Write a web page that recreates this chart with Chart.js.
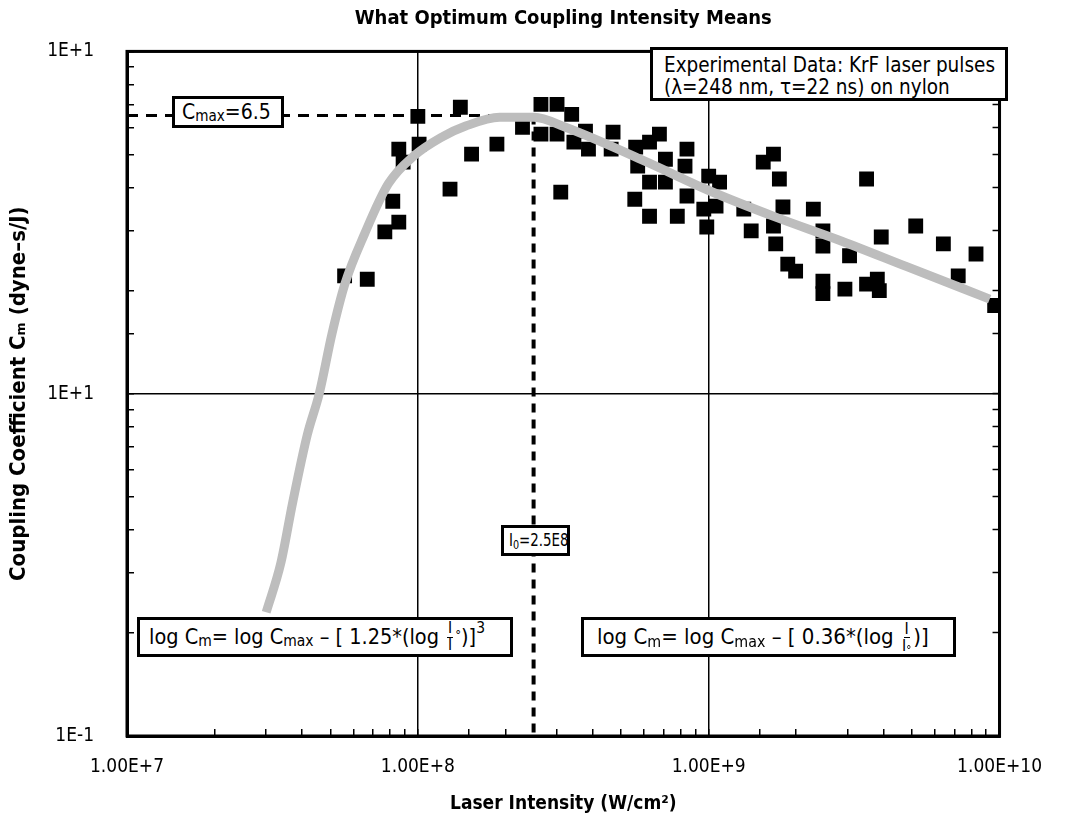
<!DOCTYPE html>
<html>
<head>
<meta charset="utf-8">
<script src="https://cdn.jsdelivr.net/npm/chart.js"></script>
<style>
  html, body { margin: 0; padding: 0; background: #fff; }
  #wrap { position: relative; width: 1069px; height: 821px; }
  #chart { position: absolute; left: 0; top: 0; }
  .box {
    position: absolute; box-sizing: border-box; background: #fff; color: #000;
    border: 3px solid #000; white-space: nowrap; line-height: 1;
    display: flex; align-items: center;
    font-family: 'DejaVu Sans Condensed', 'Liberation Sans Narrow', sans-serif;
  }
  .box sub { font-size: 72%; vertical-align: baseline; position: relative; top: 0.28em; }
  .box sup { font-size: 72%; vertical-align: baseline; position: relative; top: -0.55em; }
  .squeeze { display: inline-block; transform: scaleX(0.85); transform-origin: left center; }
  .frac { display: inline-flex; flex-direction: column; align-items: center; font-size: 72%; line-height: 1.0; margin: 0 2px; }
  .frac span:first-child { border-bottom: 1.5px solid #000; padding: 0 1px; }
  .deg { font-size: 60%; position: relative; top: -0.1em; }
  #cmaxBox { left: 172px; top: 96px; width: 112px; height: 32px; font-size: 21px; padding-left: 7px; }
  #i0Box { left: 501px; top: 525px; width: 69px; height: 31px; font-size: 17.5px; padding-left: 5px; }
  #legendBox { left: 650px; top: 47px; width: 358px; height: 54px; font-size: 20.5px; line-height: 22px; padding: 4px 0 0 11px; display: block; }
  #fitLow { left: 137px; top: 617px; width: 376px; height: 40px; font-size: 21.5px; padding-left: 9px; }
  #fitHigh { left: 581px; top: 617px; width: 375px; height: 40px; font-size: 22px; padding-left: 13px; }
</style>
</head>
<body>
<div id="wrap">
  <canvas id="chart" width="1069" height="821"></canvas>
  <div class="box" id="cmaxBox">C<sub>max</sub>=6.5</div>
  <div class="box" id="i0Box"><span class="squeeze">I<sub>0</sub>=2.5E8</span></div>
  <div class="box" id="legendBox">Experimental Data: KrF laser pulses<br>(λ=248 nm, τ=22 ns) on nylon</div>
  <div class="box" id="fitLow">log C<sub>m</sub>= log C<sub>max</sub>&nbsp;– [ 1.25*(log&nbsp;<span class="frac"><span>I</span><span>I</span></span><span class="deg">°</span>)]<sup>3</sup></div>
  <div class="box" id="fitHigh">log C<sub>m</sub>= log C<sub>max</sub>&nbsp;– [ 0.36*(log&nbsp;<span class="frac"><span>I</span><span>I<sub>°</sub></span></span>)]</div>
</div>
<script>
const FONT = "'DejaVu Sans Condensed', 'Liberation Sans Narrow', sans-serif";

// axis ticks
const xTickValues = [1e7, 1e8, 1e9, 1e10];
const xTickLabels = ['1.00E+7', '1.00E+8', '1.00E+9', '1.00E+10'];
const yTickValues = [0.1, 1, 10];
const yTickLabels = ['1E-1', '1E+1', '1E+1'];

// measured points (intensity W/cm2, coupling dyne-s/J)
const dataI = [
    1.00e8, 1.40e8, 8.6e7, 1.01e8, 8.9e7, 8.2e7, 8.6e7, 7.7e7, 5.6e7, 6.7e7,
    1.53e8, 1.87e8, 1.29e8, 2.29e8, 2.65e8, 3.01e8, 2.65e8, 3.01e8, 3.38e8, 3.10e8,
    3.77e8, 3.44e8, 3.86e8, 4.69e8, 4.62e8, 5.61e8, 6.26e8, 6.77e8, 5.70e8, 7.10e8,
    8.42e8, 8.29e8, 6.26e8, 7.10e8, 1.00e9, 1.09e9, 8.42e8, 5.57e8, 6.26e8, 7.80e8,
    9.62e8, 1.06e9, 9.85e8, 1.32e9, 1.40e9, 1.54e9, 1.67e9, 1.75e9, 3.49e9, 1.80e9,
    1.67e9, 1.70e9, 1.87e9, 1.99e9, 2.29e9, 2.47e9, 2.47e9, 2.47e9, 2.47e9, 2.94e9,
    3.05e9, 3.92e9, 3.49e9, 3.80e9, 3.86e9, 5.15e9, 6.41e9, 7.21e9, 8.30e9, 9.62e9
];
const dataCm = [
    6.46, 6.87, 5.18, 5.36, 4.75, 3.65, 3.17, 2.97, 2.21, 2.16,
    5.01, 5.36, 3.96, 6.00, 7.00, 7.00, 5.73, 5.73, 6.55, 3.88,
    5.85, 5.43, 5.18, 5.81, 5.18, 5.25, 5.43, 5.73, 4.62, 4.84,
    5.18, 4.62, 4.15, 4.15, 4.32, 4.15, 3.78, 3.70, 3.30, 3.30,
    3.46, 3.53, 3.07, 3.46, 2.99, 4.75, 5.01, 4.24, 4.24, 3.51,
    3.09, 2.74, 2.39, 2.28, 3.46, 2.99, 2.70, 2.13, 1.96, 2.02,
    2.53, 2.87, 2.09, 2.16, 2.00, 3.09, 2.74, 2.21, 2.56, 1.81
];

// fitted curve
const fitI = [
    3.01e7, 3.38e7, 3.71e7, 4.17e7, 4.58e7, 5.07e7, 5.61e7, 6.56e7, 7.91e7, 9.69e7,
    1.20e8, 1.46e8, 1.91e8, 2.51e8, 3.22e8, 6.03e8, 1.01e9, 1.70e9, 2.87e9, 4.80e9, 9.25e9
];
const fitCm = [
    0.23, 0.32, 0.48, 0.76, 1.00, 1.50, 2.09, 2.93, 4.10, 4.95,
    5.60, 6.05, 6.42, 6.42, 6.00, 4.78, 3.91, 3.28, 2.79, 2.35, 1.89
];

// guide lines
const cmaxLineI = [1e7, 2.5e8];
const cmaxLineCm = [6.5, 6.5];
const i0LineI = [2.5e8, 2.5e8];
const i0LineCm = [6.5, 0.1];

const pairs = (xs, ys) => xs.map((x, i) => ({ x: x, y: ys[i] }));
const markIndex = (values, v) => values.findIndex(t => Math.abs(Math.log10(t) - Math.log10(v)) < 1e-6);

const frame = {
    id: 'frame',
    afterDatasetsDraw(chart) {
        const { ctx, chartArea: a } = chart;
        ctx.save();
        ctx.strokeStyle = '#000';
        ctx.lineWidth = 3;
        ctx.strokeRect(a.left, a.top, a.right - a.left, a.bottom - a.top);
        ctx.restore();
    }
};

Chart.defaults.font.family = FONT;
Chart.defaults.color = '#000';

const ctx = document.getElementById('chart').getContext('2d');
new Chart(ctx, {
    type: 'scatter',
    data: {
        datasets: [
            {
                label: 'Fit',
                type: 'line',
                data: pairs(fitI, fitCm),
                borderColor: '#bdbdbd',
                borderWidth: 9,
                pointRadius: 0,
                cubicInterpolationMode: 'monotone',
                fill: false,
                order: 0
            },
            {
                label: 'Experimental Data',
                data: pairs(dataI, dataCm),
                pointStyle: 'rect',
                pointRadius: 10.5,
                backgroundColor: '#000',
                borderWidth: 0,
                order: 1
            },
            {
                label: 'Cmax',
                type: 'line',
                data: pairs(cmaxLineI, cmaxLineCm),
                borderColor: '#000',
                borderWidth: 3,
                borderDash: [11, 8],
                pointRadius: 0,
                order: 2
            },
            {
                label: 'I0',
                type: 'line',
                data: pairs(i0LineI, i0LineCm),
                borderColor: '#000',
                borderWidth: 4,
                borderDash: [9, 7],
                pointRadius: 0,
                order: 2
            }
        ]
    },
    options: {
        responsive: false,
        animation: false,
        events: [],
        layout: { padding: 0, autoPadding: false },
        plugins: {
            legend: { display: false },
            tooltip: { enabled: false },
            title: {
                display: true,
                fullSize: false,
                text: 'What Optimum Coupling Intensity Means',
                font: { size: 20, weight: 'bold' },
                color: '#000',
                padding: { top: 3, bottom: 21 }
            }
        },
        scales: {
            x: {
                type: 'logarithmic',
                position: 'bottom',
                min: 1e7,
                max: 1e10,
                afterFit: s => { s.height = 85; },
                border: { display: true, color: '#000', width: 3 },
                grid: {
                    color: c => markIndex(xTickValues, c.tick.value) >= 0 ? '#000' : 'rgba(0,0,0,0)',
                    lineWidth: 1.5,
                    tickColor: '#000',
                    tickWidth: 1.5,
                    tickLength: -7
                },
                ticks: {
                    autoSkip: false,
                    maxRotation: 0,
                    padding: 27,
                    font: { size: 19 },
                    callback: v => {
                        const i = markIndex(xTickValues, v);
                        return i >= 0 ? xTickLabels[i] : '';
                    }
                },
                title: {
                    display: true,
                    text: 'Laser Intensity (W/cm²)',
                    font: { size: 19, weight: 'bold' },
                    padding: { top: 0, bottom: 6 }
                }
            },
            y: {
                type: 'logarithmic',
                position: 'left',
                min: 0.1,
                max: 10,
                afterFit: s => { s.width = 127; },
                border: { display: true, color: '#000', width: 3 },
                grid: {
                    color: c => markIndex(yTickValues, c.tick.value) >= 0 ? '#000' : 'rgba(0,0,0,0)',
                    lineWidth: 1.5,
                    tickColor: '#000',
                    tickWidth: 1.5,
                    tickLength: -7
                },
                ticks: {
                    autoSkip: false,
                    padding: 40,
                    font: { size: 19 },
                    callback: v => {
                        const i = markIndex(yTickValues, v);
                        return i >= 0 ? yTickLabels[i] : '';
                    }
                },
                title: {
                    display: true,
                    text: 'Coupling Coefficient Cₘ (dyne–s/J)',
                    font: { size: 22, weight: 'bold' },
                    padding: { top: 6, bottom: 0 }
                }
            },
            y2: {
                type: 'logarithmic',
                position: 'right',
                min: 0.1,
                max: 10,
                afterFit: s => { s.width = 60; },
                border: { display: true, color: '#000', width: 3 },
                grid: {
                    drawOnChartArea: false,
                    tickColor: '#000',
                    tickWidth: 1.5,
                    tickLength: -7
                },
                ticks: { display: false, autoSkip: false }
            }
        }
    },
    plugins: [frame]
});
</script>
</body>
</html>
